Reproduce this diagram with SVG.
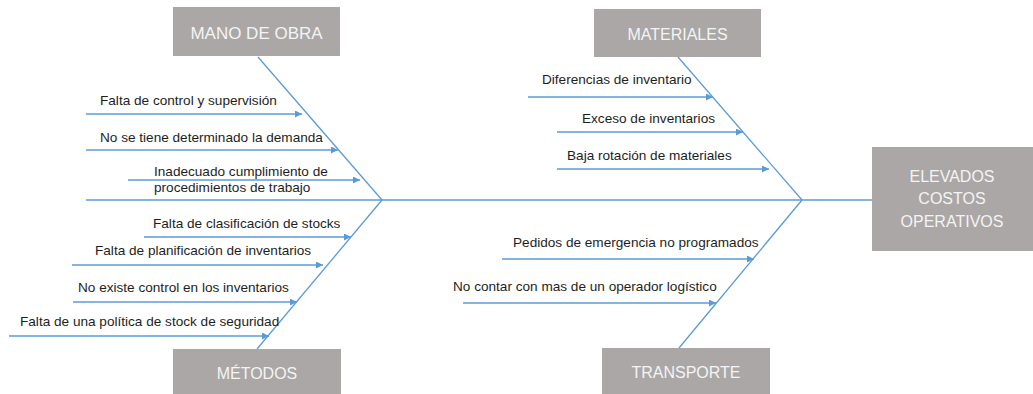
<svg xmlns="http://www.w3.org/2000/svg" width="1033" height="394" viewBox="0 0 1033 394">
<style>
.box{fill:#aaa7a6}
.bt{font-family:"Liberation Sans",Arial,sans-serif;font-size:16px;fill:#f4f4f4;text-anchor:middle}
.lbl{font-family:"Liberation Sans",Arial,sans-serif;font-size:13.6px;fill:#1e1e1e}
.ln{stroke:#5b9bd5;stroke-width:1.3;fill:none}
.ar{stroke:#5b9bd5;stroke-width:1.3;fill:none;marker-end:url(#ah)}
</style>
<defs>
<marker id="ah" viewBox="0 0 10 10" refX="10" refY="5" markerWidth="8" markerHeight="7" markerUnits="userSpaceOnUse" orient="auto">
<path d="M0,0 L10,5 L0,10 z" fill="#5b9bd5"/>
</marker>
</defs>
<rect width="1033" height="394" fill="#ffffff"/>
<g id="connectors">
<line class="ln" x1="86" y1="200" x2="872" y2="200"/>
<line class="ln" x1="258" y1="57" x2="382" y2="200"/>
<line class="ln" x1="382" y1="200" x2="257" y2="349"/>
<line class="ln" x1="678" y1="57" x2="802" y2="200"/>
<line class="ln" x1="802" y1="200" x2="679" y2="348"/>
<line class="ar" x1="86" y1="114" x2="302" y2="114"/>
<line class="ar" x1="86" y1="150" x2="338" y2="150"/>
<line class="ar" x1="128" y1="180" x2="360" y2="180"/>
<line class="ar" x1="144" y1="237" x2="351" y2="237"/>
<line class="ar" x1="72" y1="265" x2="323" y2="265"/>
<line class="ar" x1="73" y1="302" x2="297" y2="302"/>
<line class="ar" x1="9" y1="336" x2="269" y2="336"/>
<line class="ar" x1="528" y1="97" x2="713" y2="97"/>
<line class="ar" x1="557" y1="132" x2="743" y2="132"/>
<line class="ar" x1="557" y1="169" x2="769" y2="169"/>
<line class="ar" x1="502" y1="259" x2="754" y2="259"/>
<line class="ar" x1="463" y1="303" x2="716" y2="303"/>
</g>
<g id="mano-de-obra">
<rect class="box" x="173" y="7" width="167" height="49"/>
<text class="bt" x="256.5" y="39" style="font-size:17px">MANO DE OBRA</text>
</g>
<g id="metodos">
<rect class="box" x="173" y="349" width="168" height="48"/>
<text class="bt" x="257" y="379">MÉTODOS</text>
</g>
<g id="materiales">
<rect class="box" x="594" y="9" width="167" height="48"/>
<text class="bt" x="677.5" y="40">MATERIALES</text>
</g>
<g id="transporte">
<rect class="box" x="602" y="348" width="168" height="48"/>
<text class="bt" x="686" y="378">TRANSPORTE</text>
</g>
<g id="efecto">
<rect class="box" x="872" y="147" width="161" height="104"/>
<text class="bt" x="952" y="182">ELEVADOS</text>
<text class="bt" x="952" y="204">COSTOS</text>
<text class="bt" x="952" y="227">OPERATIVOS</text>
</g>
<g id="causas">
<text class="lbl" x="100" y="105">Falta de control y supervisión</text>
<text class="lbl" x="100" y="142">No se tiene determinado la demanda</text>
<text class="lbl" x="154" y="176">Inadecuado cumplimiento de</text>
<text class="lbl" x="154" y="192">procedimientos de trabajo</text>
<text class="lbl" x="153" y="228">Falta de clasificación de stocks</text>
<text class="lbl" x="95" y="255">Falta de planificación de inventarios</text>
<text class="lbl" x="78" y="292">No existe control en los inventarios</text>
<text class="lbl" x="20" y="326">Falta de una política de stock de seguridad</text>
<text class="lbl" x="542" y="84">Diferencias de inventario</text>
<text class="lbl" x="582" y="123">Exceso de inventarios</text>
<text class="lbl" x="567" y="160">Baja rotación de materiales</text>
<text class="lbl" x="513" y="247">Pedidos de emergencia no programados</text>
<text class="lbl" x="453" y="291">No contar con mas de un operador logístico</text>
</g>
</svg>
